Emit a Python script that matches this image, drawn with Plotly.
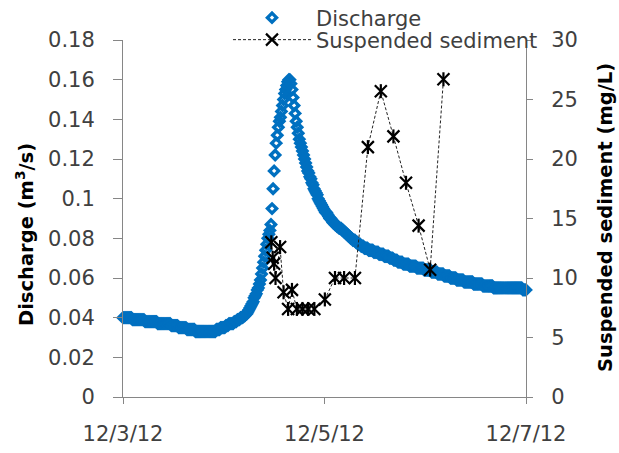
import pandas as pd
import plotly.graph_objects as go

# Stream discharge (m3/s), one reading every 15 minutes from 12/3/12 00:00 to 12/7/12 00:00
discharge_start = "2012-12-03 00:00"
discharge_step = "15min"
discharge = [
    0.040, 0.040, 0.040, 0.040, 0.040, 0.040, 0.040, 0.040, 0.040, 0.039, 0.039, 0.039, 0.039, 0.039, 0.039, 0.039,
    0.039, 0.039, 0.039, 0.039, 0.039, 0.038, 0.038, 0.038, 0.038, 0.038, 0.038, 0.038, 0.038, 0.038, 0.038, 0.038,
    0.038, 0.037, 0.037, 0.037, 0.037, 0.037, 0.037, 0.037, 0.037, 0.037, 0.037, 0.037, 0.037, 0.037, 0.036, 0.036,
    0.036, 0.036, 0.036, 0.036, 0.036, 0.035, 0.035, 0.035, 0.035, 0.035, 0.035, 0.035, 0.035, 0.034, 0.034, 0.034,
    0.034, 0.034, 0.034, 0.034, 0.034, 0.033, 0.033, 0.033, 0.033, 0.033, 0.033, 0.033, 0.033, 0.033, 0.033, 0.033,
    0.033, 0.033, 0.033, 0.033, 0.033, 0.033, 0.033, 0.033, 0.033, 0.034, 0.034, 0.034, 0.034, 0.035, 0.035, 0.035,
    0.035, 0.035, 0.036, 0.036, 0.036, 0.037, 0.037, 0.037, 0.037, 0.037, 0.038, 0.038, 0.038, 0.039, 0.039, 0.039,
    0.040, 0.040, 0.040, 0.041, 0.041, 0.042, 0.042, 0.043, 0.044, 0.045, 0.046, 0.047, 0.048, 0.050, 0.051, 0.052,
    0.054, 0.055, 0.057, 0.059, 0.062, 0.065, 0.068, 0.071, 0.074, 0.077, 0.080, 0.082, 0.084, 0.087, 0.095, 0.105,
    0.114, 0.122, 0.128, 0.132, 0.136, 0.139, 0.141, 0.144, 0.147, 0.150, 0.153, 0.155, 0.157, 0.159, 0.160, 0.160,
    0.158, 0.155, 0.151, 0.147, 0.143, 0.139, 0.136, 0.133, 0.130, 0.128, 0.126, 0.124, 0.122, 0.120, 0.118, 0.116,
    0.114, 0.113, 0.111, 0.110, 0.108, 0.107, 0.105, 0.104, 0.103, 0.102, 0.100, 0.099, 0.098, 0.097, 0.096, 0.095,
    0.094, 0.093, 0.093, 0.092, 0.091, 0.090, 0.090, 0.089, 0.088, 0.088, 0.087, 0.087, 0.086, 0.086, 0.085, 0.085,
    0.085, 0.084, 0.084, 0.083, 0.083, 0.082, 0.082, 0.081, 0.081, 0.080, 0.080, 0.079, 0.079, 0.079, 0.078, 0.078,
    0.077, 0.077, 0.077, 0.076, 0.076, 0.076, 0.075, 0.075, 0.075, 0.075, 0.074, 0.074, 0.074, 0.074, 0.074, 0.073,
    0.073, 0.073, 0.073, 0.073, 0.072, 0.072, 0.072, 0.072, 0.072, 0.071, 0.071, 0.071, 0.071, 0.071, 0.070, 0.070,
    0.070, 0.070, 0.069, 0.069, 0.069, 0.069, 0.068, 0.068, 0.068, 0.068, 0.068, 0.067, 0.067, 0.067, 0.067, 0.067,
    0.067, 0.066, 0.066, 0.066, 0.066, 0.066, 0.066, 0.066, 0.065, 0.065, 0.065, 0.065, 0.065, 0.065, 0.065, 0.064,
    0.064, 0.064, 0.064, 0.064, 0.064, 0.064, 0.063, 0.063, 0.063, 0.063, 0.063, 0.063, 0.062, 0.062, 0.062, 0.062,
    0.062, 0.062, 0.061, 0.061, 0.061, 0.061, 0.061, 0.061, 0.060, 0.060, 0.060, 0.060, 0.060, 0.060, 0.059, 0.059,
    0.059, 0.059, 0.059, 0.059, 0.059, 0.058, 0.058, 0.058, 0.058, 0.058, 0.058, 0.058, 0.058, 0.058, 0.057, 0.057,
    0.057, 0.057, 0.057, 0.057, 0.057, 0.057, 0.057, 0.056, 0.056, 0.056, 0.056, 0.056, 0.056, 0.056, 0.056, 0.056,
    0.056, 0.055, 0.055, 0.055, 0.055, 0.055, 0.055, 0.055, 0.055, 0.055, 0.055, 0.055, 0.055, 0.055, 0.055, 0.055,
    0.055, 0.055, 0.055, 0.055, 0.055, 0.055, 0.055, 0.055, 0.055, 0.055, 0.055, 0.055, 0.055, 0.054, 0.054, 0.054,
    0.054,
]

# Suspended sediment samples (mg/L)
sediment_time = [
    "2012-12-04 11:20", "2012-12-04 11:40", "2012-12-04 12:00", "2012-12-04 12:20",
    "2012-12-04 13:25", "2012-12-04 14:15", "2012-12-04 15:20", "2012-12-04 16:15",
    "2012-12-04 17:25", "2012-12-04 18:45", "2012-12-04 20:05", "2012-12-04 21:35",
    "2012-12-05 00:05", "2012-12-05 02:30", "2012-12-05 04:40", "2012-12-05 07:15",
    "2012-12-05 10:20", "2012-12-05 13:25", "2012-12-05 16:25", "2012-12-05 19:25",
    "2012-12-05 22:25", "2012-12-06 01:10", "2012-12-06 04:20",
]
sediment = [
    13.0, 11.7, 11.2, 10.0,
    12.6, 8.8, 7.4, 9.0,
    7.4, 7.4, 7.4, 7.4,
    8.2, 10.0, 10.0, 10.0,
    21.0, 25.7, 21.9, 18.0,
    14.4, 10.7, 26.7,
]

# Axis ticks
x_tickvals = ["2012-12-03", "2012-12-05", "2012-12-07"]
x_ticktext = ["12/3/12", "12/5/12", "12/7/12"]
q_tickvals = [0, 0.02, 0.04, 0.06, 0.08, 0.10, 0.12, 0.14, 0.16, 0.18]
q_ticktext = ["0", "0.02", "0.04", "0.06", "0.08", "0.1", "0.12", "0.14", "0.16", "0.18"]
ss_tickvals = [0, 5, 10, 15, 20, 25, 30]
ss_ticktext = ["0", "5", "10", "15", "20", "25", "30"]

discharge_time = pd.date_range(discharge_start, periods=len(discharge), freq=discharge_step)

BLUE = "#0070C0"
AXIS = "#868686"
TXT = "#404040"
FONT = "DejaVu Sans"

# Plot-area box in pixels (used to place legends and axis titles in paper units)
L, R, T, B = 123, 526, 40, 397
W, H = R - L, B - T


def px_x(x):
    return (x - L) / W


def px_y(y):
    return (B - y) / H


fig = go.Figure()

fig.add_trace(go.Scatter(
    x=discharge_time, y=discharge, name="Discharge", mode="markers",
    marker=dict(symbol="diamond-open", size=7, color=BLUE, line=dict(color=BLUE, width=3.4)),
    cliponaxis=False, legend="legend",
))

# Sediment: dashed connector with an x-shaped marker, plus a vertical bar to form the star
fig.add_trace(go.Scatter(
    x=sediment_time, y=sediment, name="Suspended sediment", mode="lines+markers",
    yaxis="y2",
    line=dict(color="#222222", width=1, dash="3px,2px"),
    marker=dict(symbol="x-thin-open", size=12, color="black", line=dict(color="black", width=2.2)),
    cliponaxis=False, legend="legend2",
))
fig.add_trace(go.Scatter(
    x=sediment_time, y=sediment, mode="markers", yaxis="y2", showlegend=False,
    marker=dict(symbol="line-ns-open", size=10, color="black", line=dict(color="black", width=2.2)),
    cliponaxis=False, hoverinfo="skip",
))

axis_common = dict(
    showline=True, linecolor=AXIS, linewidth=1, ticks="outside", tickcolor=AXIS,
    showgrid=False, zeroline=False, tickfont=dict(family=FONT, size=21, color=TXT),
)

fig.update_layout(
    width=619, height=453,
    margin=dict(l=L, r=619 - R, t=T, b=453 - B, autoexpand=False),
    paper_bgcolor="white", plot_bgcolor="white",
    font=dict(family=FONT, color=TXT),
    xaxis=dict(
        type="date", range=["2012-12-03", "2012-12-07"],
        tickvals=x_tickvals, ticktext=x_ticktext, ticklen=6, ticklabelstandoff=12,
        **axis_common,
    ),
    yaxis=dict(
        range=[0, 0.18], tickvals=q_tickvals, ticktext=q_ticktext, ticklen=9,
        ticklabelstandoff=14, **axis_common,
    ),
    yaxis2=dict(
        range=[0, 30], overlaying="y", side="right", anchor="x",
        tickvals=ss_tickvals, ticktext=ss_ticktext, ticklen=6, ticklabelstandoff=14,
        **axis_common,
    ),
    legend=dict(
        x=px_x(228), xanchor="left", y=px_y(18), yanchor="middle",
        bgcolor="rgba(0,0,0,0)", itemwidth=78,
        font=dict(family=FONT, size=21, color=TXT),
    ),
    legend2=dict(
        x=px_x(228), xanchor="left", y=px_y(40), yanchor="middle",
        bgcolor="rgba(0,0,0,0)", itemwidth=78,
        font=dict(family=FONT, size=21, color=TXT),
    ),
    annotations=[
        dict(text="<b>Discharge (m<sup>3</sup>/s)</b>", xref="paper", yref="paper",
             x=px_x(25), y=px_y(235), textangle=-90, showarrow=False,
             xanchor="center", yanchor="middle",
             font=dict(family=FONT, size=19.5, color="black")),
        dict(text="<b>Suspended sediment (mg/L)</b>", xref="paper", yref="paper",
             x=px_x(605), y=px_y(218), textangle=-90, showarrow=False,
             xanchor="center", yanchor="middle",
             font=dict(family=FONT, size=19.5, color="black")),
    ],
)

fig.write_html("out.html")
